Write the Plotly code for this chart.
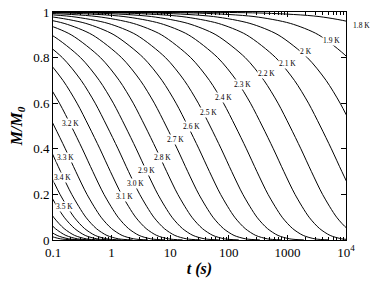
import plotly.graph_objects as go

# Relaxation M/M0 read at fixed levels; each curve lists log10(t/s) where it crosses each level
M_LEVELS = [0.99998, 0.9998, 0.995, 0.98, 0.95, 0.9, 0.8, 0.7, 0.6, 0.5,
            0.4, 0.3, 0.2, 0.1, 0.05, 0.02, 0.005, 0.0005]

logt_1p8 = [-1.10, 0.45, 2.61, 3.54, 4.16, 4.64, 5.14, 5.46, 5.70, 5.90, 6.09, 6.27, 6.46, 6.70, 6.88, 7.06, 7.26, 7.50]
logt_1p9 = [-2.21, -0.66, 1.50, 2.43, 3.05, 3.53, 4.03, 4.35, 4.59, 4.79, 4.98, 5.16, 5.35, 5.59, 5.77, 5.95, 6.15, 6.39]
logt_2p0 = [-2.90, -1.35, 0.81, 1.74, 2.36, 2.84, 3.34, 3.66, 3.90, 4.10, 4.29, 4.47, 4.66, 4.90, 5.08, 5.26, 5.46, 5.70]
logt_2p1 = [-3.44, -1.89, 0.27, 1.20, 1.82, 2.30, 2.80, 3.12, 3.36, 3.56, 3.75, 3.93, 4.12, 4.36, 4.54, 4.72, 4.92, 5.16]
logt_2p2 = [-3.96, -2.41, -0.25, 0.68, 1.30, 1.78, 2.28, 2.60, 2.84, 3.04, 3.23, 3.41, 3.60, 3.84, 4.02, 4.20, 4.40, 4.64]
logt_2p3 = [-4.43, -2.88, -0.72, 0.21, 0.83, 1.31, 1.81, 2.13, 2.37, 2.57, 2.76, 2.94, 3.13, 3.37, 3.55, 3.73, 3.93, 4.17]
logt_2p4 = [-4.89, -3.34, -1.18, -0.25, 0.37, 0.85, 1.35, 1.67, 1.91, 2.11, 2.30, 2.48, 2.67, 2.91, 3.09, 3.27, 3.47, 3.71]
logt_2p5 = [-5.32, -3.77, -1.61, -0.68, -0.06, 0.42, 0.92, 1.24, 1.48, 1.68, 1.87, 2.05, 2.24, 2.48, 2.66, 2.84, 3.04, 3.28]
logt_2p6 = [-5.70, -4.15, -1.99, -1.06, -0.44, 0.04, 0.54, 0.86, 1.10, 1.30, 1.49, 1.67, 1.86, 2.10, 2.28, 2.46, 2.66, 2.90]
logt_2p7 = [-6.07, -4.52, -2.36, -1.43, -0.81, -0.33, 0.17, 0.49, 0.73, 0.93, 1.12, 1.30, 1.49, 1.73, 1.91, 2.09, 2.29, 2.53]
logt_2p8 = [-6.43, -4.88, -2.72, -1.79, -1.17, -0.69, -0.19, 0.13, 0.37, 0.57, 0.76, 0.94, 1.13, 1.37, 1.55, 1.73, 1.93, 2.17]
logt_2p9 = [-6.77, -5.22, -3.06, -2.13, -1.51, -1.03, -0.53, -0.21, 0.03, 0.23, 0.42, 0.60, 0.79, 1.03, 1.21, 1.39, 1.59, 1.83]
logt_3p0 = [-7.08, -5.53, -3.37, -2.44, -1.82, -1.34, -0.84, -0.52, -0.28, -0.08, 0.11, 0.29, 0.48, 0.72, 0.90, 1.08, 1.28, 1.52]
logt_3p1 = [-7.39, -5.84, -3.68, -2.75, -2.13, -1.65, -1.15, -0.83, -0.59, -0.39, -0.20, -0.02, 0.17, 0.41, 0.59, 0.77, 0.97, 1.21]
logt_3p2 = [-7.69, -6.14, -3.98, -3.05, -2.43, -1.95, -1.45, -1.13, -0.89, -0.69, -0.50, -0.32, -0.13, 0.11, 0.29, 0.47, 0.67, 0.91]
logt_3p3 = [-7.98, -6.43, -4.27, -3.34, -2.72, -2.24, -1.74, -1.42, -1.18, -0.98, -0.79, -0.61, -0.42, -0.18, 0.00, 0.18, 0.38, 0.62]
logt_3p4 = [-8.24, -6.69, -4.53, -3.60, -2.98, -2.50, -2.00, -1.68, -1.44, -1.24, -1.05, -0.87, -0.68, -0.44, -0.26, -0.08, 0.12, 0.36]
logt_3p5 = [-8.44, -6.89, -4.73, -3.80, -3.18, -2.70, -2.20, -1.88, -1.64, -1.44, -1.25, -1.07, -0.88, -0.64, -0.46, -0.28, -0.08, 0.16]
logt_3p6 = [-8.61, -7.06, -4.90, -3.97, -3.35, -2.87, -2.37, -2.05, -1.81, -1.61, -1.42, -1.24, -1.05, -0.81, -0.63, -0.45, -0.25, -0.01]
logt_3p7 = [-8.79, -7.24, -5.08, -4.15, -3.53, -3.05, -2.55, -2.23, -1.99, -1.79, -1.60, -1.42, -1.23, -0.99, -0.81, -0.63, -0.43, -0.19]
logt_3p8 = [-8.94, -7.39, -5.23, -4.30, -3.68, -3.20, -2.70, -2.38, -2.14, -1.94, -1.75, -1.57, -1.38, -1.14, -0.96, -0.78, -0.58, -0.34]
logt_3p9 = [-9.09, -7.54, -5.38, -4.45, -3.83, -3.35, -2.85, -2.53, -2.29, -2.09, -1.90, -1.72, -1.53, -1.29, -1.11, -0.93, -0.73, -0.49]
logt_4p0 = [-9.23, -7.68, -5.52, -4.59, -3.97, -3.49, -2.99, -2.67, -2.43, -2.23, -2.04, -1.86, -1.67, -1.43, -1.25, -1.07, -0.87, -0.63]

CURVES = [logt_1p8, logt_1p9, logt_2p0, logt_2p1, logt_2p2, logt_2p3, logt_2p4, logt_2p5,
          logt_2p6, logt_2p7, logt_2p8, logt_2p9, logt_3p0, logt_3p1, logt_3p2, logt_3p3,
          logt_3p4, logt_3p5, logt_3p6, logt_3p7, logt_3p8, logt_3p9, logt_4p0]

LABELS = ["1.8 K", "1.9 K", "2 K", "2.1 K", "2.2 K", "2.3 K", "2.4 K", "2.5 K", "2.6 K",
          "2.7 K", "2.8 K", "2.9 K", "3.0 K", "3.1 K", "3.2 K", "3.3 K", "3.4 K", "3.5 K"]

X_TICKS = [0.1, 1, 10, 100, 1000, 10000]
X_TICKTEXT = ["0.1", "1", "10", "100", "1000", "10<sup>4</sup>"]
Y_TICKS = [0, 0.2, 0.4, 0.6, 0.8, 1]
Y_TICKTEXT = ["0", "0.2", "0.4", "0.6", "0.8", "1"]

# label placement (log10 t, M) -- layout only
LABEL_POS = [(None, 0.939), (3.744, 0.877), (3.317, 0.825), (3.010, 0.776), (2.635, 0.732),
             (2.242, 0.680), (1.901, 0.623), (1.662, 0.561), (1.355, 0.496), (1.082, 0.439),
             (0.860, 0.364), (0.604, 0.307), (0.416, 0.250), (0.212, 0.193), (-0.693, 0.513),
             (-0.795, 0.360), (-0.846, 0.272), (-0.812, 0.149)]

SERIF = "Liberation Serif, Times New Roman, serif"

fig = go.Figure()
for lt in CURVES:
    fig.add_trace(go.Scatter(
        x=[10 ** v for v in lt], y=M_LEVELS, mode="lines",
        line=dict(color="black", width=1, shape="spline", smoothing=0.8),
        showlegend=False, hoverinfo="skip"))

for text, (lx, ly) in zip(LABELS, LABEL_POS):
    if lx is None:
        fig.add_annotation(x=1.0, xref="paper", xshift=5, xanchor="left", y=ly, yref="y",
                           text=text, showarrow=False,
                           font=dict(family=SERIF, size=7.5, color="black"))
    else:
        fig.add_annotation(x=lx, y=ly, text=text, showarrow=False, bgcolor="white",
                           borderpad=0, font=dict(family=SERIF, size=7.5, color="black"))

minor_vals = [m * 10 ** e for e in range(-1, 4) for m in range(2, 10)]

fig.update_xaxes(type="log", range=[-1, 4], tickmode="array", tickvals=X_TICKS,
                 ticktext=X_TICKTEXT, ticks="inside", ticklen=5, tickcolor="black",
                 showline=True, linecolor="black", linewidth=1, mirror="allticks",
                 showgrid=False, zeroline=False, automargin=False, ticklabeloverflow="allow",
                 minor=dict(tickmode="array", tickvals=minor_vals, ticks="inside",
                            ticklen=3, tickcolor="black", showgrid=False),
                 tickfont=dict(family=SERIF, size=13, color="black"),
                 title=dict(text="<b><i>t (s)</i></b>", standoff=4,
                            font=dict(family=SERIF, size=16, color="black")))
fig.update_yaxes(range=[0, 1], tickmode="array", tickvals=Y_TICKS, ticktext=Y_TICKTEXT,
                 ticks="inside", ticklen=5, tickcolor="black",
                 showline=True, linecolor="black", linewidth=1, mirror="allticks",
                 showgrid=False, zeroline=False, automargin=False, ticklabeloverflow="allow",
                 tickfont=dict(family=SERIF, size=13, color="black"),
                 title=dict(text="<b><i>M/M<sub>0</sub></i></b>", standoff=6,
                            font=dict(family=SERIF, size=16, color="black")))

fig.update_layout(width=374, height=287, margin=dict(l=53, r=28, t=12, b=47, autoexpand=False),
                  plot_bgcolor="white", paper_bgcolor="white")

# remove the page's default 8px body margin so the figure sits at the window's corner
fig.write_html("out.html", config={"displayModeBar": False},
               post_script="document.body.style.margin='0';")
